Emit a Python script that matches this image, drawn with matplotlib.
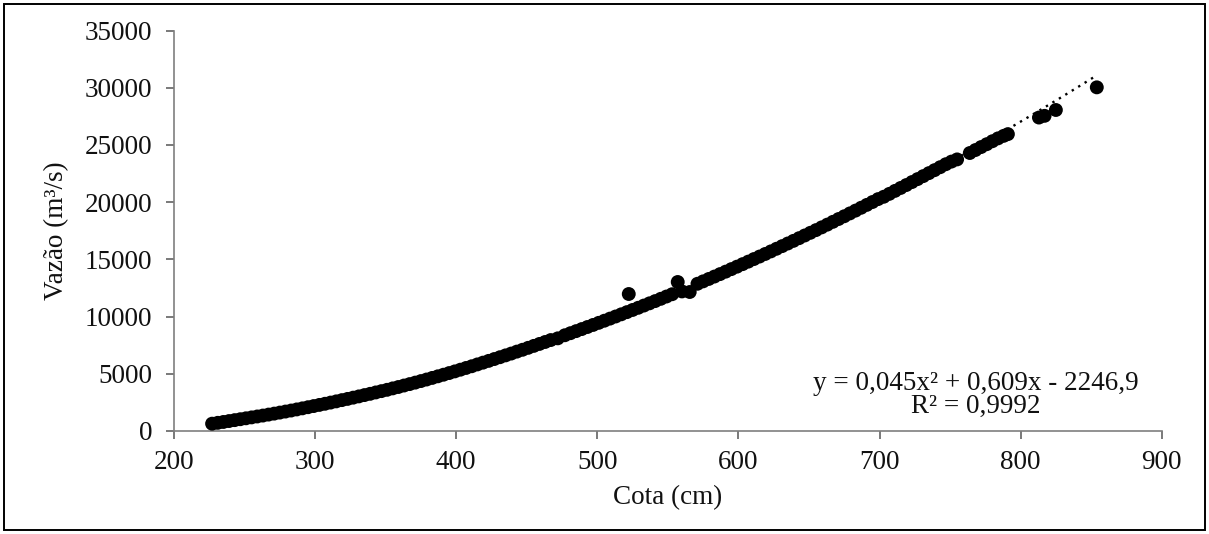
import matplotlib
matplotlib.use("Agg")
import matplotlib.pyplot as plt
from matplotlib.patches import Rectangle
import numpy as np

# ---- data ----
cota = [227, 231, 235, 239, 243, 247, 251, 255, 259, 263, 267, 271, 275, 279, 283, 287,
        291, 295, 299, 303, 307, 311, 315, 319, 323, 327, 331, 335, 339, 343, 347, 351,
        355, 359, 363, 367, 371, 375, 379, 383, 387, 391, 395, 399, 403, 407, 411, 415,
        419, 423, 427, 431, 435, 439, 443, 447, 451, 455, 459, 463, 467, 472, 477, 481,
        485, 489, 493, 497, 501, 505, 509, 513, 517, 521, 522.3, 525, 529, 533, 537, 541,
        545, 549, 553, 557, 560, 565.5, 571, 575, 579, 583, 587, 591, 595, 599, 603, 607,
        611, 615, 619, 623, 627, 631, 635, 639, 643, 647, 651, 655, 659, 663, 667, 671,
        675, 679, 683, 687, 691, 695, 699, 703, 707, 711, 715, 719, 723, 727, 731, 735,
        739, 743, 747, 751, 755, 764, 768, 772, 776, 780, 784, 788, 791, 813, 817, 825, 854]
vazao = [640, 715, 790, 870, 950, 1030, 1110, 1190, 1270, 1350, 1435, 1520, 1610, 1700, 1790, 1885,
         1980, 2080, 2180, 2280, 2380, 2485, 2590, 2700, 2805, 2915, 3025, 3140, 3250, 3370, 3485, 3600,
         3725, 3845, 3975, 4100, 4230, 4365, 4500, 4640, 4780, 4920, 5065, 5210, 5360, 5510, 5660, 5820,
         5975, 6130, 6290, 6450, 6610, 6770, 6940, 7100, 7270, 7440, 7610, 7780, 7950, 8100, 8370, 8550,
         8730, 8910, 9090, 9270, 9455, 9640, 9825, 10010, 10200, 10390, 11975, 10580, 10770, 10965, 11160, 11355,
         11555, 11755, 11955, 13025, 12200, 12150, 12870, 13080, 13290, 13500, 13715, 13930, 14150, 14365, 14585, 14805,
         15030, 15250, 15475, 15700, 15930, 16160, 16390, 16620, 16855, 17090, 17325, 17560, 17800, 18040, 18285, 18530,
         18770, 19020, 19265, 19515, 19765, 20015, 20270, 20475, 20730, 20990, 21245, 21500, 21760, 22020, 22280, 22540,
         22800, 23060, 23320, 23550, 23740, 24300, 24560, 24820, 25070, 25330, 25580, 25800, 25950, 27400, 27550, 28060, 30040]

trend_coef = [0.045, 0.609, -2246.9]
equation_text = "y = 0,045x² + 0,609x - 2246,9"
r2_text = "R² = 0,9992"
x_ticks = [200, 300, 400, 500, 600, 700, 800, 900]
y_ticks = [0, 5000, 10000, 15000, 20000, 25000, 30000, 35000]

plt.rcParams['font.family'] = ['Liberation Serif', 'DejaVu Serif']

W, H = 1209, 534
fig = plt.figure(figsize=(W / 100, H / 100), dpi=100)
fig.patch.set_facecolor('white')

left, right = 174 / W, 1161.7 / W
bottom, top = 1 - 431 / H, 1 - 30.6 / H
ax = fig.add_axes([left, bottom, right - left, top - bottom])

ax.scatter(cota, vazao, s=100, color='black', edgecolors='none', zorder=3)

xt = np.linspace(min(cota), max(cota), 400)
ax.plot(xt, np.polyval(trend_coef, xt), color='black', lw=1.7,
        linestyle=(0, (1, 2.2)), zorder=4)

ax.set_xlim(200, 900)
ax.set_ylim(0, 35000)
ax.set_xticks(x_ticks)
ax.set_yticks(y_ticks)
ax.set_xticklabels([str(v) for v in x_ticks])
ax.set_yticklabels([str(v) for v in y_ticks])

for s in ['top', 'right']:
    ax.spines[s].set_visible(False)
for s in ['left', 'bottom']:
    ax.spines[s].set_color('#7f7f7f')
    ax.spines[s].set_linewidth(1.2)

FS = 19.5
ax.tick_params(axis='both', direction='out', length=5.5, width=1.1, color='#555555',
               labelsize=FS, labelcolor='#111111')
ax.tick_params(axis='y', pad=10)
ax.tick_params(axis='x', pad=8)

ax.set_xlabel("Cota (cm)", fontsize=FS, color='#111111')
ax.set_ylabel("Vazão (m³/s)", fontsize=FS, color='#111111')
ax.xaxis.set_label_coords(0.5, (431 - 498) / 400.4)
ax.xaxis.label.set_va('center')
ax.yaxis.set_label_coords((57 - 174) / 987.7, 0.5)
ax.yaxis.label.set_va('center')

fig.text(976 / W, 1 - 383 / H, equation_text, ha='center', va='center',
         fontsize=FS, color='#111111')
fig.text(976 / W, 1 - 406 / H, r2_text, ha='center', va='center',
         fontsize=FS, color='#111111')

fig.add_artist(Rectangle((4 / W, 4 / H), 1201 / W, 526 / H, transform=fig.transFigure,
                         fill=False, edgecolor='black', lw=1.4))

fig.savefig("out.png", dpi=100, facecolor='white')
